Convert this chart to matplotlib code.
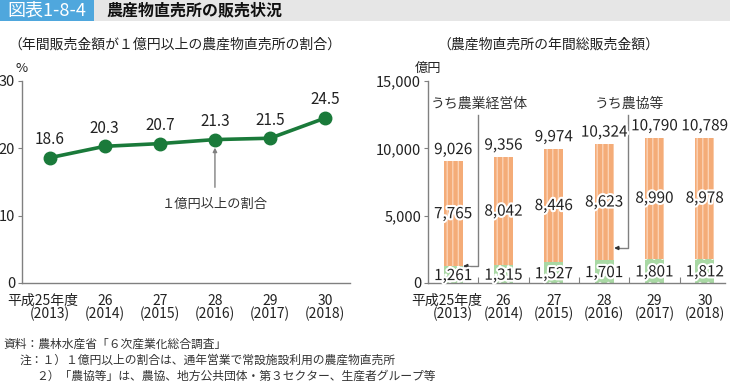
import matplotlib
matplotlib.use("Agg")
import matplotlib.pyplot as plt
import matplotlib.patheffects as pe
from matplotlib.patches import Rectangle

plt.rcParams['font.family'] = ['Noto Sans CJK JP', 'DejaVu Sans']
plt.rcParams['hatch.linewidth'] = 1.0

# data
years_jp = ["平成25年度", "26", "27", "28", "29", "30"]
years_ad = ["(2013)", "(2014)", "(2015)", "(2016)", "(2017)", "(2018)"]
share = [18.6, 20.3, 20.7, 21.3, 21.5, 24.5]
total = [9026, 9356, 9974, 10324, 10790, 10789]
farmer = [7765, 8042, 8446, 8623, 8990, 8978]
ja = [1261, 1315, 1527, 1701, 1801, 1812]

green = '#1a7a3a'
gray = '#808080'
txt = '#222222'

fig = plt.figure(figsize=(7.3, 3.84), dpi=100)

# header bar
fig.patches.append(Rectangle((0, 1 - 21 / 384), 1, 21 / 384, transform=fig.transFigure,
                             facecolor='#e6e6e6', edgecolor='none'))
fig.patches.append(Rectangle((0, 1 - 21 / 384), 94 / 730, 21 / 384, transform=fig.transFigure,
                             facecolor='#4fa7dd', edgecolor='none'))
fig.text(47 / 730, 1 - 10.5 / 384, "図表1-8-4", color='white', fontsize=13,
         ha='center', va='center')
fig.text(106 / 730, 1 - 10.5 / 384, "農産物直売所の販売状況", color='#111111', fontsize=11.5,
         fontweight='bold', ha='left', va='center')

fig.text(8 / 730, 1 - 45 / 384, "（年間販売金額が１億円以上の農産物直売所の割合）",
         fontsize=10, color=txt, ha='left', va='center')
fig.text(548 / 730, 1 - 45 / 384, "（農産物直売所の年間総販売金額）",
         fontsize=10, color=txt, ha='center', va='center')

x = list(range(len(share)))

###### left chart ######
ax1 = fig.add_axes([22 / 730, 1 - 283 / 384, 328 / 730, 202 / 384])
ax1.plot(x, share, color=green, lw=2.6, marker='o', ms=9, zorder=3)
for xi, v in zip(x, share):
    ax1.annotate(f"{v:.1f}", (xi, v), xytext=(0, 7), textcoords='offset points',
                 ha='center', va='bottom', fontsize=11, color=txt)
ax1.annotate("１億円以上の割合", xy=(3, 20.1), xytext=(3, 11.6),
             ha='center', va='center', fontsize=9.5, color='#333333',
             arrowprops=dict(arrowstyle='-|>', color=gray, lw=1, mutation_scale=6,
                             shrinkA=6, shrinkB=0))
ax1.set_xlim(-0.5, 5.45)
ax1.set_ylim(0, 30)
ax1.set_yticks([0, 10, 20, 30])
ax1.set_xticks([])
ax1.text(0, 1.03, "%", transform=ax1.transAxes, fontsize=9.5, color=txt,
         ha='center', va='bottom')

###### right chart ######
ax2 = fig.add_axes([428 / 730, 1 - 283 / 384, 297 / 730, 202 / 384])
w = 0.38
ax2.bar(x, ja, width=w, color='#a9d8a4', edgecolor='white', hatch='..', lw=0, zorder=2)
ax2.bar(x, farmer, bottom=ja, width=w, color='#f4ac78', edgecolor='#fbd2b4',
        hatch='|||', lw=0, zorder=2)
stroke = [pe.withStroke(linewidth=3, foreground='white')]
for xi, t, f, j in zip(x, total, farmer, ja):
    ax2.text(xi, t + 250, f"{t:,}", ha='center', va='bottom', fontsize=11,
             color=txt, path_effects=stroke, zorder=4)
    ax2.text(xi, j + f / 2, f"{f:,}", ha='center', va='center', fontsize=11,
             color=txt, path_effects=stroke, zorder=4)
    ax2.text(xi, j / 2 - 80, f"{j:,}", ha='center', va='center', fontsize=11,
             color=txt, path_effects=stroke, zorder=4)

# callouts
ax2.text(0.52, 13300, "うち農業経営体", ha='center', va='center', fontsize=10, color='#333333')
ax2.plot([0.5, 0.5, 0.22], [12500, ja[0], ja[0]], color=gray, lw=1, zorder=3)
ax2.annotate("", xy=(0.2, ja[0]), xytext=(0.3, ja[0]),
             arrowprops=dict(arrowstyle='-|>', color='#333333', lw=0.8, mutation_scale=6,
                             shrinkA=0, shrinkB=0))
ax2.text(3.5, 13300, "うち農協等", ha='center', va='center', fontsize=10, color='#333333')
ax2.plot([3.47, 3.47, 3.23], [12500, 2600, 2600], color=gray, lw=1, zorder=3)
ax2.annotate("", xy=(3.2, 2600), xytext=(3.3, 2600),
             arrowprops=dict(arrowstyle='-|>', color='#333333', lw=0.8, mutation_scale=6,
                             shrinkA=0, shrinkB=0))

ax2.set_xlim(-0.5, 5.4)
ax2.set_ylim(0, 15000)
ax2.set_yticks([0, 5000, 10000, 15000])
ax2.set_yticklabels(["0", "5,000", "10,000", "15,000"])
ax2.set_xticks([0.5, 1.5, 2.5, 3.5, 4.5])
ax2.set_xticklabels([])
ax2.tick_params(axis='x', direction='in', length=4, color=gray)
ax2.text(0.0, 1.03, "億円", transform=ax2.transAxes, fontsize=9.5, color=txt,
         ha='center', va='bottom')

for ax in (ax1, ax2):
    for s in ('top', 'right'):
        ax.spines[s].set_visible(False)
    for s in ('left', 'bottom'):
        ax.spines[s].set_color(gray)
        ax.spines[s].set_linewidth(1)
    ax.tick_params(axis='y', direction='out', length=3, color=gray, labelsize=10.5,
                   labelcolor=txt, pad=2)
    ax.set_facecolor('none')
    # category labels
    for xi, a, b in zip(x, years_jp, years_ad):
        dx = -0.12 if xi == 0 else 0
        ax.text(xi + dx, -0.09, a, transform=ax.get_xaxis_transform(), ha='center',
                va='center', fontsize=10, color=txt)
        ax.text(xi, -0.155, b, transform=ax.get_xaxis_transform(), ha='center',
                va='center', fontsize=10, color=txt)

# footnotes
fig.text(3 / 730, 1 - 344 / 384, "資料：農林水産省「６次産業化総合調査」",
         fontsize=8.5, color='#333333', ha='left', va='center')
fig.text(20 / 730, 1 - 360 / 384, "注：１）１億円以上の割合は、通年営業で常設施設利用の農産物直売所",
         fontsize=8.5, color='#333333', ha='left', va='center')
fig.text(36 / 730, 1 - 376 / 384, "２）「農協等」は、農協、地方公共団体・第３セクター、生産者グループ等",
         fontsize=8.5, color='#333333', ha='left', va='center')

fig.savefig("out.png", dpi=100)
